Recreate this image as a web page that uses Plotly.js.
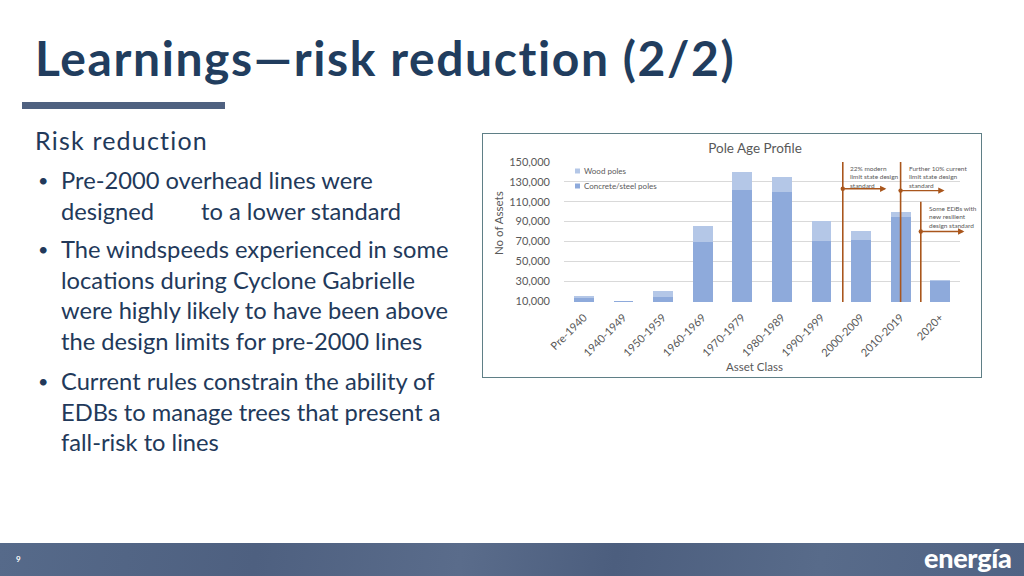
<!DOCTYPE html>
<html>
<head>
<meta charset="utf-8">
<script src="https://cdn.plot.ly/plotly-3.0.1.min.js"></script>
<style>
  html, body { margin:0; padding:0; background:#fff; }
  #slide { position:relative; width:1024px; height:576px; overflow:hidden; background:#fff; font-family:Lato, "Open Sans", sans-serif; }
  .title { position:absolute; left:35px; top:29px; font-size:48px; font-weight:700; color:#213d5e; line-height:1.2; white-space:nowrap; letter-spacing:1.6px; font-variant-ligatures:none; }
  .rule { position:absolute; left:22px; top:102px; width:203px; height:7px; background:#4f6180; }
  .heading { position:absolute; left:35px; top:125px; font-size:25px; letter-spacing:1.2px; color:#22395a; line-height:1.2; white-space:nowrap; }
  .bullet { position:absolute; left:61px; font-size:23.7px; color:#22395a; line-height:30.5px; white-space:nowrap; }
  .dot { position:absolute; left:-23px; top:0; font-size:18px; }
  .gap { display:inline-block; width:47px; }
  #box { position:absolute; left:482px; top:133px; width:498px; height:243px; border:1.5px solid #5f7f86; background:#fff; }
  #chart { position:absolute; left:0; top:0; width:1024px; height:576px; }
  #footer { position:absolute; left:0; top:543px; width:1024px; height:33px;
    background:linear-gradient(100deg,#566a8a 0%,#4e6080 25%,#5a6c8b 45%,#4c5e7e 60%,#586b8a 80%,#506384 100%); }
  .pnum { position:absolute; left:16px; top:554px; font-size:8px; font-weight:700; color:#fff; }
  .logo { position:absolute; left:924px; top:543px; font-size:27px; font-weight:900; color:#fff; letter-spacing:-0.3px; line-height:30px; }
</style>
</head>
<body>
<div id="slide">
  <div class="title">Learnings—risk reduction (2/2)</div>
  <div class="rule"></div>
  <div class="heading">Risk reduction</div>
  <div class="bullet" style="top:165px"><span class="dot">•</span>Pre-2000 overhead lines were<br>designed<span class="gap"></span>to a lower standard</div>
  <div class="bullet" style="top:234px"><span class="dot">•</span>The windspeeds experienced in some<br>locations during Cyclone Gabrielle<br>were highly likely to have been above<br>the design limits for pre-2000 lines</div>
  <div class="bullet" style="top:366px"><span class="dot">•</span>Current rules constrain the ability of<br>EDBs to manage trees that present a<br>fall-risk to lines</div>
  <div id="box"></div>
  <div id="chart"></div>
  <div id="footer"></div>
  <div class="pnum">9</div>
  <div class="logo">energía</div>
</div>
<script>
// ---- data ----
const categories = ['Pre-1940','1940-1949','1950-1959','1960-1969','1970-1979','1980-1989','1990-1999','2000-2009','2010-2019','2020+'];
const concreteSteel = [13000, 10000, 14000, 69000, 122200, 119500, 70000, 71000, 94400, 30100];
const woodPoles = [1700, 200, 5700, 16300, 18200, 15700, 20300, 10000, 5400, 1400];
const seriesNames = ['Wood poles', 'Concrete/steel poles'];
const yTickVals = [10000, 30000, 50000, 70000, 90000, 110000, 130000, 150000];
const chartTitle = 'Pole Age Profile';
const xTitle = 'Asset Class';
const yTitle = 'No of Assets';

// reference markers (x in category index units, y in assets)
const refLineX = [6.54, 8.0, 8.51];
const refLineTop = [150000, 150000, 110000];
const refArrowY = [123000, 121200, 80000];
const refArrowEnd = [7.64, 9.11, 9.61];
const refTextX = [6.66, 8.15, 8.66];
const refTextTop = [148600, 148600, 108800];
const refTexts = [
  '22% modern<br>limit state design<br>standard',
  'Further 10% current<br>limit state design<br>standard',
  'Some EDBs with<br>new resilient<br>design standard'
];

const LIGHT = '#b4c7e7', DARK = '#8eaadb', ORANGE = '#a9561c', GREY = '#595959';
const FONT = 'Lato, "Open Sans", sans-serif';

// plot area in page pixels
const L = 564, R = 960.5, T = 162, B = 302;
const px2paperX = p => (p - L) / (R - L);
const px2paperY = p => (B - p) / (B - T);

const traces = [
  { type:'bar', name:seriesNames[1], x:categories, y:concreteSteel, marker:{color:DARK}, showlegend:false, hoverinfo:'skip' },
  { type:'bar', name:seriesNames[0], x:categories, y:woodPoles, marker:{color:LIGHT}, showlegend:false, hoverinfo:'skip' }
];

const shapes = [];
refLineX.forEach((x, i) => {
  shapes.push({ type:'line', xref:'x', yref:'y', x0:x, x1:x, y0:9000, y1:refLineTop[i],
    line:{color:ORANGE, width:1.6} });
  shapes.push({ type:'circle', xref:'x', yref:'y', xsizemode:'pixel', ysizemode:'pixel',
    xanchor:x, yanchor:refArrowY[i], x0:-2.2, x1:2.2, y0:-2.2, y1:2.2,
    fillcolor:ORANGE, line:{width:0} });
});
// legend swatches
[[171, LIGHT], [186, DARK]].forEach(([py, c]) => {
  shapes.push({ type:'rect', xref:'paper', yref:'paper',
    x0:px2paperX(575), x1:px2paperX(580), y0:px2paperY(py+2.5), y1:px2paperY(py-2.5),
    fillcolor:c, line:{width:0} });
});

const annotations = [];
refLineX.forEach((x, i) => {
  annotations.push({ x:refArrowEnd[i], y:refArrowY[i], ax:x, ay:refArrowY[i], axref:'x', ayref:'y',
    xref:'x', yref:'y', text:'', showarrow:true, arrowhead:2, arrowsize:0.9, arrowwidth:1.4, arrowcolor:ORANGE });
  annotations.push({ x:refTextX[i], y:refTextTop[i], xref:'x', yref:'y', xanchor:'left', yanchor:'top',
    text:refTexts[i], showarrow:false, align:'left', font:{family:FONT, size:6.5, color:GREY} });
});
[[171, seriesNames[0]], [186, seriesNames[1]]].forEach(([py, t]) => {
  annotations.push({ x:px2paperX(582), y:px2paperY(py), xref:'paper', yref:'paper', xanchor:'left', yanchor:'middle',
    text:t, showarrow:false, font:{family:FONT, size:8, color:GREY} });
});
// axis titles
annotations.push({ x:px2paperX(755), y:px2paperY(366), xref:'paper', yref:'paper', xanchor:'center', yanchor:'middle',
  text:xTitle, showarrow:false, font:{family:FONT, size:11.5, color:GREY} });
annotations.push({ x:px2paperX(498), y:px2paperY(223), xref:'paper', yref:'paper', xanchor:'center', yanchor:'middle',
  textangle:-90, text:yTitle, showarrow:false, font:{family:FONT, size:11.5, color:GREY} });

const layout = {
  width:1024, height:576,
  margin:{l:L, r:1024-R, t:T, b:576-B, pad:0},
  paper_bgcolor:'rgba(0,0,0,0)', plot_bgcolor:'rgba(0,0,0,0)',
  barmode:'stack', bargap:0.5,
  font:{family:FONT, color:GREY},
  title:{ text:chartTitle, xref:'container', yref:'container', x:755/1024, xanchor:'center',
    y:1-148/576, yanchor:'middle', font:{family:FONT, size:13.5, color:GREY} },
  xaxis:{ type:'category', range:[-0.5, 9.5], tickangle:-45, showgrid:false, zeroline:false, showline:false, ticks:'',
    ticklabelstandoff:6,
    tickfont:{family:FONT, size:11, color:GREY} },
  yaxis:{ range:[9000, 150000], tickvals:yTickVals, tickformat:',d', showgrid:true, gridcolor:'#d9d9d9', gridwidth:1,
    zeroline:false, showline:false, ticks:'', ticklabelstandoff:13,
    tickfont:{family:FONT, size:11, color:GREY} },
  shapes, annotations, showlegend:false
};

Plotly.newPlot('chart', traces, layout, {displayModeBar:false, staticPlot:true});
</script>
</body>
</html>
